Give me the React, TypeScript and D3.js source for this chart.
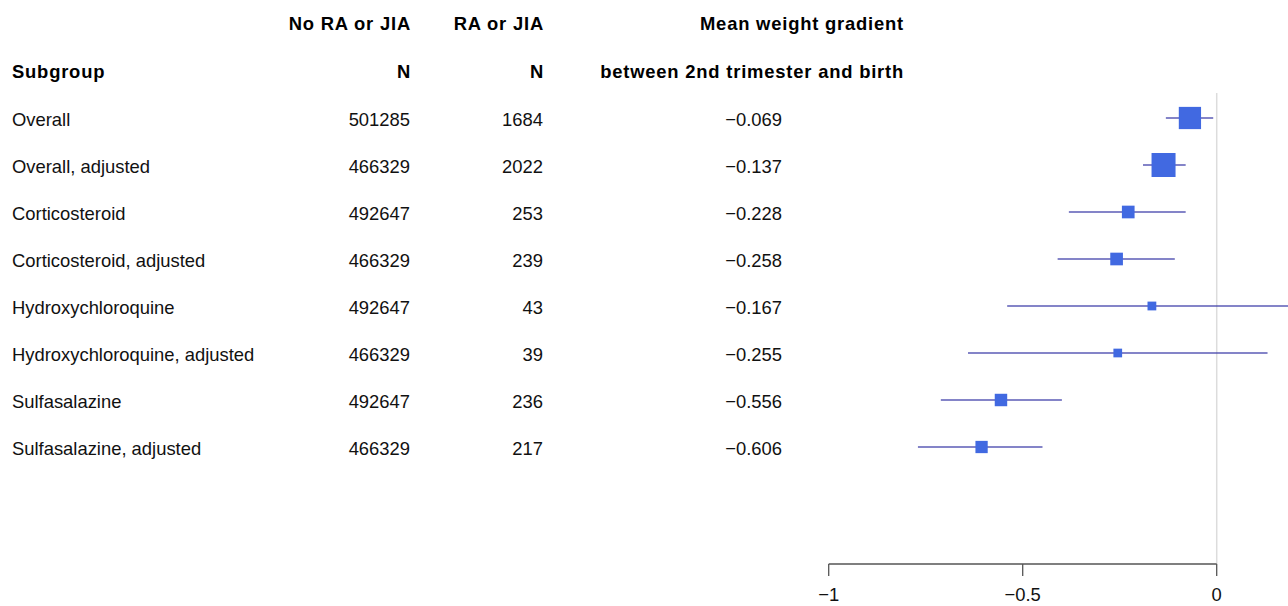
import React from "react";
import { scaleLinear, scalePoint, extent } from "d3";

const W = 1288;
const H = 606;

const subgroups = [
  "Overall",
  "Overall, adjusted",
  "Corticosteroid",
  "Corticosteroid, adjusted",
  "Hydroxychloroquine",
  "Hydroxychloroquine, adjusted",
  "Sulfasalazine",
  "Sulfasalazine, adjusted",
];
const nNoRA = ["501285", "466329", "492647", "466329", "492647", "466329", "492647", "466329"];
const nRA = ["1684", "2022", "253", "239", "43", "39", "236", "217"];
const estimates = [-0.069, -0.137, -0.228, -0.258, -0.167, -0.255, -0.556, -0.606];
const lower = [-0.131, -0.19, -0.381, -0.41, -0.54, -0.641, -0.711, -0.77];
const upper = [-0.009, -0.08, -0.08, -0.108, 0.206, 0.131, -0.399, -0.449];
const xTicks = [-1, -0.5, 0];

const font = "'Liberation Sans', Arial, Helvetica, sans-serif";
const fs = 18.4;

const x = scaleLinear().domain([-1, 0]).range([828.7, 1216.7]);
const y = scalePoint<string>().domain(subgroups).range([118, 447]);

// box size from precision (1 / CI width)
const info = lower.map((l, i) => 1 / (upper[i] - l));
const boxSize = scaleLinear()
  .domain(extent(info) as [number, number])
  .range([8.7, 24]);

const fmt = (v: number) => (v < 0 ? "\u2212" : "") + Math.abs(v).toString();
const fmt3 = (v: number) => (v < 0 ? "\u2212" : "") + Math.abs(v).toFixed(3);

export default function App() {
  const axisY = 564;
  return (
    <svg
      width={W}
      height={H}
      style={{ position: "absolute", left: 0, top: 0, background: "#fff" }}
      fontFamily={font}
      fontSize={fs}
    >
      <g fontWeight="bold" fill="#000" letterSpacing={0.8}>
        <text x={411} y={30} textAnchor="end">No RA or JIA</text>
        <text x={544} y={30} textAnchor="end">RA or JIA</text>
        <text x={904} y={30} textAnchor="end">Mean weight gradient</text>
        <text x={12} y={78}>Subgroup</text>
        <text x={411} y={78} textAnchor="end">N</text>
        <text x={544} y={78} textAnchor="end">N</text>
        <text x={904} y={78} textAnchor="end">between 2nd trimester and birth</text>
      </g>

      {subgroups.map((s, i) => {
        const cy = y(s)!;
        return (
          <g key={s} fill="#111">
            <text x={12} y={cy + 7.5}>{s}</text>
            <text x={410} y={cy + 7.5} textAnchor="end">{nNoRA[i]}</text>
            <text x={543} y={cy + 7.5} textAnchor="end">{nRA[i]}</text>
            <text x={782} y={cy + 7.5} textAnchor="end">{fmt3(estimates[i])}</text>
          </g>
        );
      })}

      <line x1={x(0)} x2={x(0)} y1={93} y2={axisY} stroke="#dcdcdc" strokeWidth={1.5} />

      {subgroups.map((s, i) => {
        const cy = y(s)!;
        const b = boxSize(info[i]);
        return (
          <g key={"m" + s}>
            <line
              x1={x(lower[i])}
              x2={x(upper[i])}
              y1={cy}
              y2={cy}
              stroke="#3d3da8"
              strokeOpacity={0.85}
              strokeWidth={1.4}
            />
            <rect
              x={x(estimates[i]) - b / 2}
              y={cy - b / 2}
              width={b}
              height={b}
              fill="#4169e1"
            />
          </g>
        );
      })}

      <g stroke="#555" strokeWidth={1.3} fill="none">
        <line x1={x(xTicks[0])} x2={x(xTicks[xTicks.length - 1])} y1={axisY} y2={axisY} />
        {xTicks.map((t) => (
          <line key={t} x1={x(t)} x2={x(t)} y1={axisY} y2={axisY + 12} />
        ))}
      </g>
      {xTicks.map((t) => (
        <text key={"l" + t} x={x(t)} y={601} textAnchor="middle" fill="#111">
          {fmt(t)}
        </text>
      ))}
    </svg>
  );
}
